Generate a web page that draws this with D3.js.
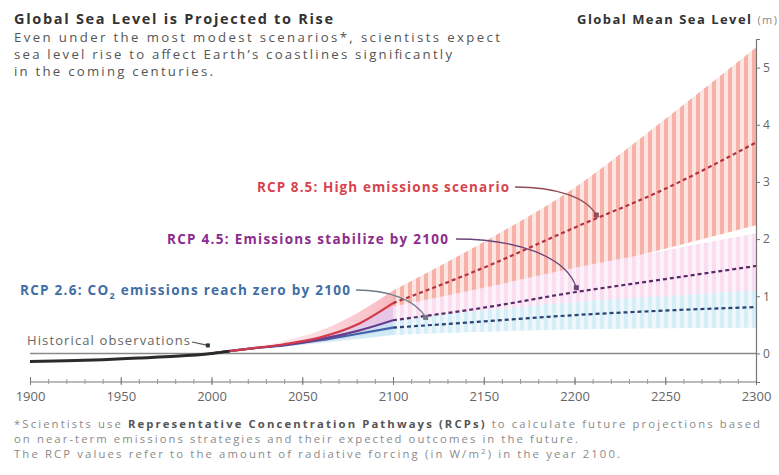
<!DOCTYPE html>
<html>
<head>
<meta charset="utf-8">
<script src="https://cdn.jsdelivr.net/npm/d3@7"></script>
<style>
  body { margin: 0; background: #fff; }
  svg { display: block; font-family: "Open Sans", sans-serif; }
</style>
</head>
<body>
<div id="chart"></div>
<script>
// historical record
const histYears = [1900, 1920, 1940, 1960, 1980, 2000, 2010];
const histLevel = [-0.14, -0.13, -0.11, -0.08, -0.05, 0, 0.04];

// projections (metres, relative to 2000)
const projYears = [2000, 2020, 2040, 2060, 2080, 2100, 2150, 2200, 2250, 2300];
const rcp85Mid  = [0, 0.08, 0.16, 0.28, 0.5, 0.88, 1.5, 2.2, 2.88, 3.69];
const rcp85Low  = [0, 0.06, 0.12, 0.2, 0.33, 0.6, 1.03, 1.43, 1.83, 2.24];
const rcp85High = [0, 0.1, 0.22, 0.4, 0.7, 1.1, 1.95, 2.9, 4.1, 5.35];
const rcp45Mid  = [0, 0.08, 0.15, 0.25, 0.39, 0.58, 0.8, 1.07, 1.3, 1.53];
const rcp45Low  = [0, 0.07, 0.12, 0.19, 0.29, 0.42, 0.6, 0.78, 0.93, 1.05];
const rcp45High = [0, 0.09, 0.18, 0.31, 0.52, 0.82, 1.15, 1.5, 1.8, 2.1];
const rcp26Mid  = [0, 0.08, 0.14, 0.23, 0.34, 0.45, 0.56, 0.67, 0.75, 0.81];
const rcp26Low  = [0, 0.07, 0.12, 0.18, 0.25, 0.32, 0.38, 0.42, 0.44, 0.45];
const rcp26High = [0, 0.09, 0.16, 0.28, 0.43, 0.6, 0.75, 0.9, 1.0, 1.1];

const xTicks = [1900, 1950, 2000, 2050, 2100, 2150, 2200, 2250, 2300];
const yTicks = [0, 1, 2, 3, 4, 5];

const subtitleLines = [
    'Even under the most modest scenarios*, scientists expect',
    'sea level rise to affect Earth\u2019s coastlines significantly',
    'in the coming centuries.'
];
const subtitleWidths = [486, 438, 199];

// annotation anchors [year, level]
const anchor85 = [2212, 2.42];
const anchor45 = [2201, 1.15];
const anchor26 = [2118, 0.63];
const anchorHist = [1998, 0.14];

const width = 779, height = 475;
const svg = d3.select('#chart').append('svg')
    .attr('width', width)
    .attr('height', height);

const x = d3.scaleLinear().domain([1900, 2300]).range([30, 756]);
const y = d3.scaleLinear().domain([-0.5, 5.5]).range([382, 39]);

let defs = svg.append('defs');

function stripes(id, bg, fg) {
    let p = defs.append('pattern')
        .attr('id', id)
        .attr('patternUnits', 'userSpaceOnUse')
        .attr('width', 8).attr('height', 10);
    p.append('rect').attr('width', 8).attr('height', 10).attr('fill', bg);
    p.append('rect').attr('width', 4).attr('height', 10).attr('fill', fg);
}
stripes('hatch85', '#fde5e1', '#f6b2a9');
stripes('hatch45', '#fdf2fa', '#f9def2');
stripes('hatch26', '#eef8fc', '#d5eef7');

function fade(id, color) {
    let g = defs.append('linearGradient')
        .attr('id', id)
        .attr('gradientUnits', 'userSpaceOnUse')
        .attr('x1', x(2010)).attr('x2', x(2100))
        .attr('y1', 0).attr('y2', 0);
    g.append('stop').attr('offset', 0).attr('stop-color', color).attr('stop-opacity', 0);
    g.append('stop').attr('offset', 1).attr('stop-color', color).attr('stop-opacity', 0.85);
}
fade('fade85', '#f6aeb6');
fade('fade45', '#e2c8ee');
fade('fade26', '#c4e4f3');

function rows(lo, hi) {
    return projYears.map((yr, i) => ({ yr: yr, lo: lo[i], hi: hi[i] }));
}
let area = d3.area()
    .x(d => x(d.yr))
    .y0(d => y(d.lo))
    .y1(d => y(d.hi))
    .curve(d3.curveMonotoneX);

let bands = [
    { lo: rcp85Low, hi: rcp85High, fade: 'fade85', hatch: 'hatch85' },
    { lo: rcp45Low, hi: rcp45High, fade: 'fade45', hatch: 'hatch45' },
    { lo: rcp26Low, hi: rcp26High, fade: 'fade26', hatch: 'hatch26' }
];
bands.forEach(b => {
    let r = rows(b.lo, b.hi);
    svg.append('path')
        .datum(r.filter(d => d.yr <= 2100))
        .attr('d', area)
        .attr('fill', 'url(#' + b.fade + ')');
    svg.append('path')
        .datum(r.filter(d => d.yr >= 2100))
        .attr('d', area)
        .attr('fill', 'url(#' + b.hatch + ')');
});

// zero line
svg.append('line')
    .attr('x1', x(1900)).attr('x2', x(2300))
    .attr('y1', y(0)).attr('y2', y(0))
    .attr('stroke', '#8a8a8a')
    .attr('stroke-width', 1.5);

// projection lines
let line = d3.line()
    .x(d => x(d.yr))
    .y(d => y(d.v))
    .curve(d3.curveMonotoneX);

let series = [
    { v: rcp26Mid, solid: '#3f63a8', dash: '#2b4373' },
    { v: rcp45Mid, solid: '#6e3a8c', dash: '#5a2b66' },
    { v: rcp85Mid, solid: '#d23a4a', dash: '#b3323f' }
];
series.forEach(s => {
    let pts = projYears.map((yr, i) => ({ yr: yr, v: s.v[i] }));
    svg.append('path')
        .datum(pts.filter(d => d.yr <= 2100))
        .attr('d', line)
        .attr('fill', 'none')
        .attr('stroke', s.solid)
        .attr('stroke-width', 2.2);
    svg.append('path')
        .datum(pts.filter(d => d.yr >= 2100))
        .attr('d', line)
        .attr('fill', 'none')
        .attr('stroke', s.dash)
        .attr('stroke-width', 2.2)
        .attr('stroke-dasharray', '4,3');
});

// historical observations
svg.append('path')
    .datum(histYears.map((yr, i) => ({ yr: yr, v: histLevel[i] })))
    .attr('d', line)
    .attr('fill', 'none')
    .attr('stroke', '#2b2b2b')
    .attr('stroke-width', 3);

// x axis
svg.append('line')
    .attr('x1', x(1900)).attr('x2', x(2300))
    .attr('y1', 382).attr('y2', 382)
    .attr('stroke', '#777').attr('stroke-width', 1.2);

svg.append('g')
    .attr('transform', 'translate(0,379)')
    .call(d3.axisBottom(x).tickValues(d3.range(1900, 2301, 10)).tickSize(5).tickFormat(''))
    .call(g => g.select('.domain').remove())
    .call(g => g.selectAll('line').attr('stroke', '#999'));

svg.append('g')
    .attr('transform', 'translate(0,377)')
    .call(d3.axisBottom(x).tickValues(xTicks).tickSize(8).tickPadding(7).tickFormat(d3.format('d')))
    .call(g => g.select('.domain').remove())
    .call(g => g.selectAll('line').attr('stroke', '#777'))
    .call(g => g.selectAll('text')
        .attr('fill', '#666')
        .attr('font-size', 13)
        .attr('font-family', '"Open Sans", sans-serif'));

// y axis on the right
svg.append('g')
    .attr('transform', 'translate(' + x(2300) + ',0)')
    .call(d3.axisRight(y).tickValues(yTicks).tickSize(4).tickPadding(3).tickFormat(d3.format('d')))
    .call(g => g.select('.domain').attr('stroke', '#777').attr('stroke-width', 1.2))
    .call(g => g.selectAll('line').attr('stroke', '#777'))
    .call(g => g.selectAll('text')
        .attr('fill', '#666')
        .attr('font-size', 12)
        .attr('font-family', '"Open Sans", sans-serif'));

let yTitle = svg.append('text')
    .attr('x', 777).attr('y', 24)
    .attr('text-anchor', 'end')
    .attr('font-size', 13)
    .attr('fill', '#333')
    .attr('textLength', 200)
    .attr('lengthAdjust', 'spacing');
yTitle.append('tspan').attr('font-weight', 700).text('Global Mean Sea Level ');
yTitle.append('tspan').attr('fill', '#888').attr('font-size', 11).attr('font-weight', 400).text('(m)');

// title block
svg.append('text')
    .attr('x', 14).attr('y', 24)
    .attr('font-size', 14.5)
    .attr('font-weight', 700)
    .attr('fill', '#333')
    .attr('textLength', 319)
    .attr('lengthAdjust', 'spacing')
    .text('Global Sea Level is Projected to Rise');

svg.append('g').selectAll('text')
    .data(subtitleLines)
    .enter().append('text')
    .attr('x', 14)
    .attr('y', (d, i) => 42 + i * 17)
    .attr('font-size', 13.2)
    .attr('fill', '#555')
    .attr('textLength', (d, i) => subtitleWidths[i])
    .attr('lengthAdjust', 'spacing')
    .text(d => d);

// annotations
function leader(startX, startY, a, color, bend) {
    let ax = x(a[0]), ay = y(a[1]);
    svg.append('path')
        .attr('d', 'M' + startX + ',' + startY +
            ' C' + (startX + bend) + ',' + startY + ' ' + (ax - 10) + ',' + (startY + (ay - startY) * 0.35) + ' ' + ax + ',' + ay)
        .attr('fill', 'none')
        .attr('stroke', color)
        .attr('stroke-width', 1.3);
    svg.append('rect')
        .attr('x', ax - 2.5).attr('y', ay - 2.5)
        .attr('width', 5).attr('height', 5)
        .attr('fill', color);
}

svg.append('text')
    .attr('x', 257).attr('y', 192)
    .attr('font-size', 13.5).attr('font-weight', 700)
    .attr('fill', '#d8434f')
    .attr('textLength', 252)
    .attr('lengthAdjust', 'spacing')
    .text('RCP 8.5: High emissions scenario');
leader(515, 187, anchor85, '#8f4b57', 40);

svg.append('text')
    .attr('x', 167).attr('y', 244)
    .attr('font-size', 13.5).attr('font-weight', 700)
    .attr('fill', '#8c2c8c')
    .attr('textLength', 281)
    .attr('lengthAdjust', 'spacing')
    .text('RCP 4.5: Emissions stabilize by 2100');
leader(456, 239, anchor45, '#6b4577', 60);

let t26 = svg.append('text')
    .attr('x', 20).attr('y', 295)
    .attr('font-size', 13.5).attr('font-weight', 700)
    .attr('fill', '#3f6ea6')
    .attr('textLength', 330)
    .attr('lengthAdjust', 'spacing');
t26.append('tspan').text('RCP 2.6: CO');
t26.append('tspan').attr('font-size', 9).attr('dy', 4).text('2');
t26.append('tspan').attr('dy', -4).text(' emissions reach zero by 2100');
leader(356, 290, anchor26, '#6f7a88', 32);

svg.append('text')
    .attr('x', 27).attr('y', 345)
    .attr('font-size', 13)
    .attr('fill', '#666')
    .attr('textLength', 163)
    .attr('lengthAdjust', 'spacing')
    .text('Historical observations');
svg.append('line')
    .attr('x1', 192).attr('y1', 342)
    .attr('x2', x(anchorHist[0])).attr('y2', y(anchorHist[1]))
    .attr('stroke', '#555').attr('stroke-width', 1.2);
svg.append('rect')
    .attr('x', x(anchorHist[0]) - 2).attr('y', y(anchorHist[1]) - 2)
    .attr('width', 4).attr('height', 4)
    .attr('fill', '#333');

// footnote
let foot = svg.append('g')
    .attr('font-size', 11.3)
    .attr('fill', '#8a8a8a');
let f1 = foot.append('text').attr('x', 14).attr('y', 428)
    .attr('textLength', 746).attr('lengthAdjust', 'spacing');
f1.append('tspan').text('*Scientists use ');
f1.append('tspan').attr('font-weight', 700).attr('fill', '#555').text('Representative Concentration Pathways (RCPs)');
f1.append('tspan').text(' to calculate future projections based');
foot.append('text').attr('x', 14).attr('y', 443)
    .attr('textLength', 564).attr('lengthAdjust', 'spacing')
    .text('on near-term emissions strategies and their expected outcomes in the future.');
let f3 = foot.append('text').attr('x', 14).attr('y', 458)
    .attr('textLength', 606).attr('lengthAdjust', 'spacing');
f3.append('tspan').text('The RCP values refer to the amount of radiative forcing (in W/m');
f3.append('tspan').attr('font-size', 8).attr('dy', -4).text('2');
f3.append('tspan').attr('dy', 4).text(') in the year 2100.');
</script>
</body>
</html>
